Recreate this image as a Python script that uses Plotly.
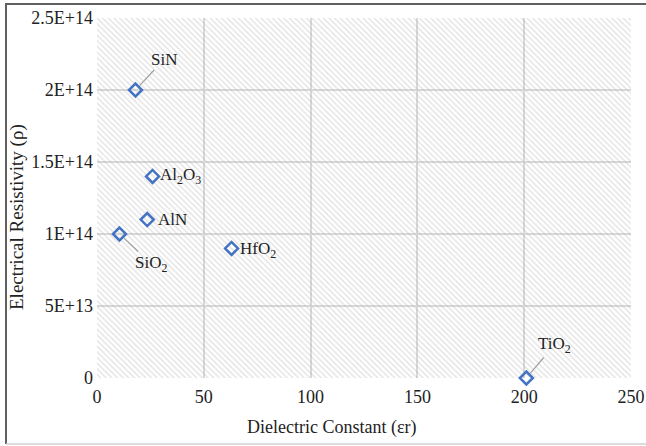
import plotly.graph_objects as go

materials = ["SiN", "Al<sub>2</sub>O<sub>3</sub>", "AlN", "SiO<sub>2</sub>", "HfO<sub>2</sub>", "TiO<sub>2</sub>"]
dielectric = [18, 26, 23.5, 10.5, 63, 201]
resistivity = [2.0e14, 1.4e14, 1.1e14, 1.0e14, 0.9e14, 0.0]

x_ticks = [0, 50, 100, 150, 200, 250]
y_ticks = [0, 5e13, 1e14, 1.5e14, 2e14, 2.5e14]
y_ticktext = ["0", "5E+13", "1E+14", "1.5E+14", "2E+14", "2.5E+14"]

x_title = "Dielectric Constant (εr)"
y_title = "Electrical Resistivity (ρ)"

XR = [0, 250]
YR = [0, 2.5e14]

FONT = "Liberation Serif"
W, H = 646, 446
ML, MR, MT, MB = 97, 15, 18, 68
PW, PH = W - ML - MR, H - MT - MB


def px_x(p):
    return (p - ML) / PW


def px_y(p):
    return 1 - (p - MT) / PH


fig = go.Figure()

# hatched background of plot area
fig.add_trace(go.Scatter(
    x=[XR[0], XR[1], XR[1], XR[0], XR[0]],
    y=[YR[0], YR[0], YR[1], YR[1], YR[0]],
    mode="none", fill="toself", fillcolor="rgba(0,0,0,0)",
    fillpattern=dict(shape="\\", fgcolor="rgba(170,170,170,0.75)", bgcolor="rgba(0,0,0,0)",
                     size=4, solidity=0.3),
    hoverinfo="skip", showlegend=False,
))

fig.add_trace(go.Scatter(
    x=dielectric, y=resistivity, mode="markers",
    marker=dict(symbol="diamond-open", size=10, color="#4472C4", line=dict(width=2.5, color="#4472C4")),
    showlegend=False, cliponaxis=False,
))

# label offsets (pixels) and whether a leader line is drawn
label_cfg = {
    "SiN": (29, -31, True),
    "Al<sub>2</sub>O<sub>3</sub>": (28, 0, False),
    "AlN": (25, 0, False),
    "SiO<sub>2</sub>": (32, 30, True),
    "HfO<sub>2</sub>": (26, 2, False),
    "TiO<sub>2</sub>": (28, -33, True),
}
for m, xv, yv in zip(materials, dielectric, resistivity):
    ax, ay, line = label_cfg[m]
    fig.add_annotation(
        x=xv, y=yv, text=m, showarrow=True, ax=ax, ay=ay,
        arrowhead=0, arrowwidth=1.2,
        arrowcolor="#a0a0a0" if line else "rgba(0,0,0,0)",
        standoff=6, xanchor="center", yanchor="middle",
        font=dict(family=FONT, size=17, color="#222222"),
    )

# axis titles
fig.add_annotation(xref="paper", yref="paper", x=px_x(332), y=px_y(427), text=x_title,
                   showarrow=False, xanchor="center", yanchor="middle",
                   font=dict(family=FONT, size=18, color="#222222"))
fig.add_annotation(xref="paper", yref="paper", x=px_x(17), y=px_y(217), text=y_title,
                   showarrow=False, xanchor="center", yanchor="middle", textangle=-90,
                   font=dict(family=FONT, size=19, color="#222222"))

# outer border (left & top dark, bottom light)
fig.add_shape(type="line", xref="paper", yref="paper",
              x0=px_x(6), x1=px_x(6), y0=px_y(444), y1=px_y(4),
              line=dict(color="#606060", width=2))
fig.add_shape(type="line", xref="paper", yref="paper",
              x0=px_x(5), x1=px_x(646), y0=px_y(4), y1=px_y(4),
              line=dict(color="#606060", width=2))
fig.add_shape(type="line", xref="paper", yref="paper",
              x0=px_x(6), x1=px_x(646), y0=px_y(444), y1=px_y(444),
              line=dict(color="#d0d0d0", width=1.5))

fig.update_layout(
    width=W, height=H,
    margin=dict(l=ML, r=MR, t=MT, b=MB, autoexpand=False),
    paper_bgcolor="white", plot_bgcolor="white",
    font=dict(family=FONT, size=18, color="#222222"),
    xaxis=dict(range=XR, tickvals=x_ticks, showgrid=True, gridcolor="#d9d9d9", gridwidth=2,
               zeroline=False, showline=False, ticks="", automargin=False, ticklabelstandoff=6,
               tickfont=dict(size=18)),
    yaxis=dict(range=YR, tickvals=y_ticks, ticktext=y_ticktext, showgrid=True, gridcolor="#d9d9d9",
               gridwidth=2, zeroline=False, showline=False, ticks="", automargin=False,
               ticklabelstandoff=3, tickfont=dict(size=18)),
)

fig.write_html("out.html")
